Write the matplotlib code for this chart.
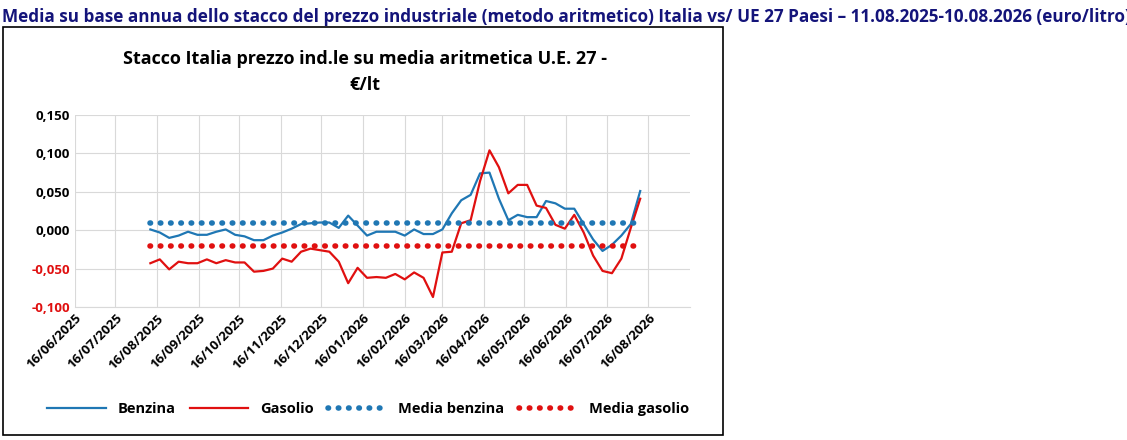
import datetime as dt
import numpy as np
import matplotlib.pyplot as plt
import matplotlib.dates as mdates
from matplotlib.patches import Rectangle

plt.rcParams['font.family'] = ['Open Sans', 'DejaVu Sans']

# weekly values from 11/08/2025 to 10/08/2026 (euro/litro)
start = dt.date(2025, 8, 11)
benzina = [0.001, -0.003, -0.010, -0.007, -0.002, -0.006, -0.006, -0.002, 0.001, -0.006,
           -0.008, -0.013, -0.013, -0.007, -0.003, 0.002, 0.008, 0.009, 0.010, 0.010,
           0.003, 0.019, 0.006, -0.007, -0.002, -0.002, -0.002, -0.007, 0.001, -0.005,
           -0.005, 0.001, 0.022, 0.039, 0.046, 0.074, 0.075, 0.041, 0.013, 0.020,
           0.017, 0.017, 0.038, 0.035, 0.028, 0.028, 0.008, -0.012, -0.027, -0.019,
           -0.007, 0.008, 0.051]
gasolio = [-0.043, -0.038, -0.051, -0.041, -0.043, -0.043, -0.038, -0.043, -0.039, -0.042,
           -0.042, -0.054, -0.053, -0.050, -0.037, -0.041, -0.028, -0.024, -0.026, -0.028,
           -0.041, -0.069, -0.049, -0.062, -0.061, -0.062, -0.057, -0.064, -0.055, -0.062,
           -0.087, -0.029, -0.028, 0.009, 0.013, 0.064, 0.104, 0.082, 0.048, 0.059,
           0.059, 0.032, 0.029, 0.007, 0.002, 0.020, -0.003, -0.033, -0.053, -0.056,
           -0.037, 0.003, 0.041]
media_benzina = 0.010
media_gasolio = -0.020
dates = [start + dt.timedelta(weeks=i) for i in range(len(benzina))]
months = [dt.date(2025 + (5 + i) // 12, (5 + i) % 12 + 1, 16) for i in range(15)]

fig = plt.figure(figsize=(11.27, 4.40), dpi=100)
fig.patches.append(Rectangle((3 / 1127, 1 - 435 / 440), 720 / 1127, 408 / 440,
                             transform=fig.transFigure, fill=False, edgecolor='black', lw=1.2))
fig.text(0.002, 0.962, 'Media su base annua dello stacco del prezzo industriale (metodo aritmetico) Italia vs/ UE 27 Paesi \u2013 11.08.2025-10.08.2026 (euro/litro)',
         fontsize=12.3, fontweight='bold', color='#14147a', va='center')
fig.text(365 / 1127, 1 - 72 / 440, 'Stacco Italia prezzo ind.le su media aritmetica U.E. 27 -\n\u20ac/lt',
         ha='center', va='center', fontsize=13, fontweight='bold', linespacing=1.6)

ax = fig.add_axes([75 / 1127, 1 - 307 / 440, 615 / 1127, 192 / 440])
ax.plot(dates, benzina, color='#1f77b4', lw=1.6, label='Benzina')
ax.plot(dates, gasolio, color='#e01010', lw=1.6, label='Gasolio')
ax.plot(dates, [media_benzina] * len(dates), color='#1f77b4', ls=(0, (0.1, 1.75)), lw=4,
        dash_capstyle='round', label='Media benzina')
ax.plot(dates, [media_gasolio] * len(dates), color='#e01010', ls=(0, (0.1, 1.75)), lw=4,
        dash_capstyle='round', label='Media gasolio')

ax.set_xlim(months[0], dt.date(2026, 9, 16))
ax.set_ylim(-0.1, 0.15)
ax.set_xticks(months)
ax.xaxis.set_major_formatter(mdates.DateFormatter('%d/%m/%Y'))
ax.set_yticks(np.arange(-0.1, 0.151, 0.05))
ax.set_yticklabels([('%.3f' % v).replace('.', ',') for v in np.arange(-0.1, 0.151, 0.05)])
for lab, v in zip(ax.get_yticklabels(), np.arange(-0.1, 0.151, 0.05)):
    lab.set_color('#e01010' if v < -1e-9 else 'black')
    lab.set_fontweight('bold')
plt.setp(ax.get_xticklabels(), rotation=45, ha='right', rotation_mode='anchor', fontweight='bold')
ax.tick_params(labelsize=9.5, length=0)
ax.grid(True, color='#d9d9d9', lw=0.8)
for s in ax.spines.values():
    s.set_visible(False)
ax.spines['bottom'].set_visible(True)
ax.spines['bottom'].set_color('#d9d9d9')

fig.legend(loc='center', bbox_to_anchor=(368 / 1127, 1 - 409 / 440), ncol=4, frameon=False,
           prop={'weight': 'bold', 'size': 10.5}, handlelength=4, columnspacing=1.0)
fig.savefig('out.png')
